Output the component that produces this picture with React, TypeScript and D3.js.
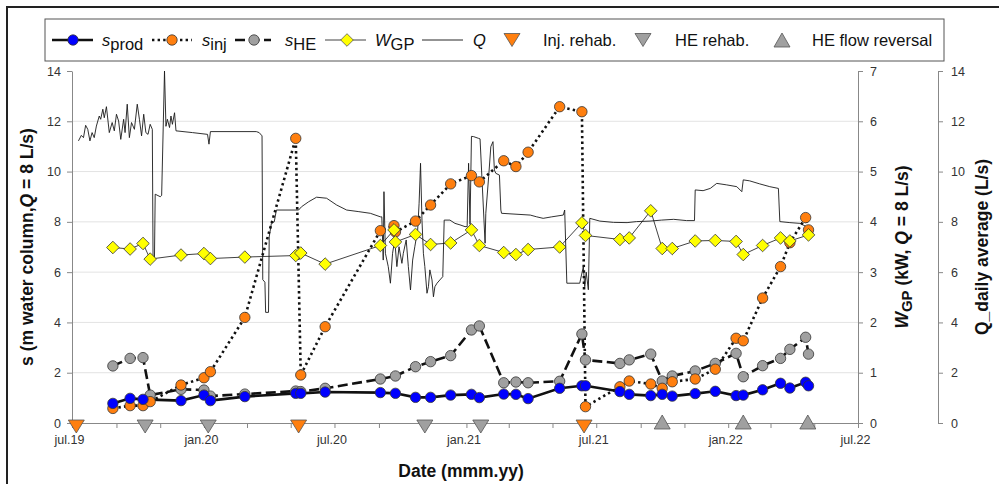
import React, { useEffect, useRef } from "react";
import * as d3 from "d3";

// sampling campaigns (drawdown s, heat pump power W)
const sampleDates = [
  "2019-08-27", "2019-09-20", "2019-10-08", "2019-10-18", "2019-11-30",
  "2020-01-01", "2020-01-10", "2020-02-27", "2020-05-08", "2020-05-15",
  "2020-06-18", "2020-09-03", "2020-09-22", "2020-09-24", "2020-10-22",
  "2020-11-12", "2020-12-10", "2021-01-08", "2021-01-19", "2021-02-22",
  "2021-03-11", "2021-03-28", "2021-05-11", "2021-06-11", "2021-06-16",
  "2021-08-03", "2021-08-16", "2021-09-15", "2021-10-01", "2021-10-15",
  "2021-11-16", "2021-12-14", "2022-01-12", "2022-01-22", "2022-02-18",
  "2022-03-15", "2022-03-28", "2022-04-19", "2022-04-23",
];
const sProd = [
  0.78, 0.98, 0.94, null, 0.89, 1.11, 0.89, 1.05, 1.18, 1.18,
  1.23, 1.21, null, 1.18, 1.02, 1.02, 1.11, 1.14, 1.01, 1.15,
  1.14, 0.97, 1.38, 1.48, 1.48, 1.25, 1.14, 1.09, 1.14, 1.07,
  1.17, 1.26, 1.09, 1.11, 1.32, 1.58, 1.39, 1.62, 1.48,
];
const sInj = [
  0.58, 0.69, 0.69, 0.85, 1.51, 1.8, 2.04, 4.2, 11.32, 1.91,
  3.83, 7.65, 7.85, 7.6, 8.03, 8.67, 9.51, 9.84, 9.59, 10.43,
  10.2, 10.77, 12.58, 12.38, 0.65, 1.44, 1.67, 1.55, 1.38, 1.64,
  1.75, 2.14, 3.37, 3.27, 4.97, 6.22, 7.17, 8.17, 7.68,
];
const sHE = [
  2.27, 2.57, 2.6, 1.11, 1.34, 1.31, 1.07, 1.15, 1.27, 1.25,
  1.38, 1.75, null, 1.87, 2.24, 2.44, 2.68, 3.7, 3.86, 1.6,
  1.63, 1.6, 1.66, 3.54, 2.51, 2.37, 2.51, 2.74, 1.67, 1.87,
  2.07, 2.37, 2.77, 1.84, 2.28, 2.57, 2.93, 3.41, 2.74,
];
const wGP = [
  3.49, 3.46, 3.57, 3.26, 3.34, 3.37, 3.27, 3.3, 3.33, 3.38,
  3.16, 3.53, 3.84, 3.6, 3.75, 3.55, 3.58, 3.84, 3.53, 3.39,
  3.35, 3.45, 3.5, 3.98, 3.73, 3.65, 3.68, 4.22, 3.47, 3.47,
  3.62, 3.63, 3.61, 3.35, 3.53, 3.68, 3.62, null, 3.74,
];

// daily average flow rate Q
const qDates = [
  "2019-07-10", "2019-07-14", "2019-07-17", "2019-07-20", "2019-07-23", "2019-07-26",
  "2019-07-29", "2019-08-01", "2019-08-04", "2019-08-08", "2019-08-10", "2019-08-13",
  "2019-08-15", "2019-08-18", "2019-08-22", "2019-08-26", "2019-08-29", "2019-09-01",
  "2019-09-04", "2019-09-07", "2019-09-11", "2019-09-13", "2019-09-16", "2019-09-19",
  "2019-09-22", "2019-09-26", "2019-09-30", "2019-10-03", "2019-10-06", "2019-10-09",
  "2019-10-12", "2019-10-15", "2019-10-18", "2019-10-21", "2019-10-22", "2019-10-24",
  "2019-10-25", "2019-11-01", "2019-11-03", "2019-11-07", "2019-11-09", "2019-11-11",
  "2019-11-14", "2019-11-16", "2019-11-18", "2019-11-21", "2019-11-23", "2019-12-16",
  "2020-01-06", "2020-01-08", "2020-01-10", "2020-03-14", "2020-03-18", "2020-03-22",
  "2020-03-23", "2020-03-26", "2020-03-27", "2020-03-31", "2020-04-01", "2020-04-04",
  "2020-04-08", "2020-04-11", "2020-05-12", "2020-05-16", "2020-05-26", "2020-06-06",
  "2020-06-20", "2020-07-04", "2020-07-18", "2020-08-03", "2020-08-20", "2020-09-03",
  "2020-09-05", "2020-09-07", "2020-09-08", "2020-09-10", "2020-09-14", "2020-09-17",
  "2020-09-20", "2020-09-23", "2020-09-26", "2020-09-29", "2020-10-03", "2020-10-05",
  "2020-10-09", "2020-10-12", "2020-10-15", "2020-10-18", "2020-10-21", "2020-10-25",
  "2020-10-27", "2020-10-29", "2020-10-31", "2020-11-02", "2020-11-04", "2020-11-07",
  "2020-11-09", "2020-11-11", "2020-11-14", "2020-11-16", "2020-11-18", "2020-11-21",
  "2020-11-25", "2020-11-29", "2020-12-01", "2020-12-09", "2020-12-16", "2020-12-23",
  "2020-12-30", "2021-01-02", "2021-01-04", "2021-01-06", "2021-01-08", "2021-01-11",
  "2021-01-18", "2021-01-20", "2021-01-27", "2021-01-28", "2021-02-01", "2021-02-04",
  "2021-02-07", "2021-02-09", "2021-02-11", "2021-02-16", "2021-02-18", "2021-02-19",
  "2021-03-31", "2021-04-09", "2021-04-18", "2021-04-30", "2021-05-16", "2021-05-18",
  "2021-05-21", "2021-06-08", "2021-06-13", "2021-06-15", "2021-06-17", "2021-06-20",
  "2021-06-22", "2021-07-06", "2021-07-25", "2021-08-13", "2021-08-26", "2021-09-14",
  "2021-09-30", "2021-10-17", "2021-11-04", "2021-11-15", "2021-11-16", "2021-11-27",
  "2021-12-07", "2021-12-16", "2021-12-30", "2022-01-13", "2022-01-20", "2022-01-22",
  "2022-01-31", "2022-02-14", "2022-02-28", "2022-03-12", "2022-03-14", "2022-03-28",
  "2022-04-11", "2022-04-20",
];
const qValues = [
  11.22, 11.44, 11.35, 11.84, 11.68, 11.22,
  11.55, 11.35, 11.81, 12.21, 12.08, 12.48,
  12.14, 12.58, 11.55, 11.95, 11.62, 12.28,
  12.01, 11.28, 12.08, 11.55, 12.68, 11.35,
  11.95, 11.68, 12.68, 12.08, 11.42, 12.28,
  11.55, 11.48, 11.88, 11.68, 6.6, 6.6,
  9.1, 9.0, 9.05, 14.0, 11.8, 12.08,
  11.75, 12.21, 11.88, 12.34, 11.62, 11.55,
  11.48, 11.09, 11.59, 11.59, 11.55, 11.42,
  5.7, 5.6, 4.4, 4.4, 7.4, 7.94,
  8.0, 8.47, 8.47, 8.6, 8.8, 8.98,
  8.94, 8.67, 8.47, 8.41, 8.34, 8.2,
  8.2, 6.48, 9.2, 6.75, 6.22, 5.56,
  6.75, 7.28, 6.22, 7.01, 6.35, 6.75,
  7.28, 6.22, 5.29, 6.48, 7.01, 7.68,
  8.74, 10.33, 8.07, 6.75, 6.22, 5.16,
  5.42, 6.09, 5.69, 5.02, 5.42, 5.56,
  5.69, 5.82, 8.07, 8.07, 7.94, 7.88,
  7.81, 7.81, 10.33, 7.9, 11.4, 11.39,
  11.32, 11.3, 7.15, 8.34, 9.8, 10.99,
  11.19, 10.06, 9.93, 9.86, 8.47, 8.34,
  8.27, 8.2, 8.14, 8.2, 8.27, 8.47,
  5.56, 5.56, 6.22, 5.42, 6.0, 5.3,
  8.14, 8.03, 7.98, 7.97, 8.01, 8.03,
  8.07, 8.1, 8.05, 8.05, 9.27, 9.24,
  9.33, 9.53, 9.47, 9.4, 9.2, 9.67,
  9.63, 9.51, 9.4, 9.33, 8.01, 7.97,
  7.94, 7.81,
];

// events
const injRehab = ["2019-07-07", "2020-05-12", "2021-06-14"];
const heRehab = ["2019-10-11", "2020-01-07", "2020-11-04", "2021-01-21"];
const heReversal = ["2021-10-01", "2022-01-22", "2022-04-22"];

const xTickLabels = ["jul.19", "jan.20", "jul.20", "jan.21", "jul.21", "jan.22", "jul.22"];
const sTicks = [0, 2, 4, 6, 8, 10, 12, 14];
const wTicks = [0, 1, 2, 3, 4, 5, 6, 7];
const qTicks = [0, 2, 4, 6, 8, 10, 12, 14];

const FONT = "Arial, 'Liberation Sans', sans-serif";

export default function App() {
  const ref = useRef<SVGSVGElement>(null);

  useEffect(() => {
    const svg = d3.select(ref.current);
    svg.selectAll("*").remove();

    const parse = d3.timeParse("%Y-%m-%d");
    const start = parse("2019-07-01") as Date;
    const end = parse("2022-07-01") as Date;
    const left = 72, right = 858, top = 71, bottom = 423;

    const x = d3.scaleTime().domain([start, end]).range([left, right]);
    const yS = d3.scaleLinear().domain([0, 14]).range([bottom, top]);
    const yW = d3.scaleLinear().domain([0, 7]).range([bottom, top]);
    const yQ = d3.scaleLinear().domain([0, 14]).range([bottom, top]);

    // outer frame
    svg.append("rect").attr("x", 7).attr("y", 7).attr("width", 1100).attr("height", 600)
      .attr("fill", "none").attr("stroke", "#222").attr("stroke-width", 2);

    // gridlines
    svg.append("g").selectAll("line").data(sTicks.filter((t) => t > 0 && t < 14)).join("line")
      .attr("x1", left).attr("x2", right)
      .attr("y1", (d) => yS(d)).attr("y2", (d) => yS(d))
      .attr("stroke", "#e3e3e3").attr("stroke-width", 1);

    const styleAxis = (g: any) => {
      g.select(".domain").attr("stroke", "#888");
      g.selectAll(".tick line").attr("stroke", "#888");
      g.selectAll(".tick text").attr("fill", "#333").style("font-family", FONT).style("font-size", "12.5px");
    };

    const months = d3.timeMonth.every(2)!.range(start, d3.timeDay.offset(end, 1));
    svg.append("g").attr("transform", `translate(0,${bottom})`)
      .call(d3.axisBottom(x).tickValues(months).tickSize(5).tickSizeOuter(0).tickPadding(7)
        .tickFormat((_d: any, i: number) => (i % 3 === 0 ? xTickLabels[i / 3] : "")) as any)
      .call(styleAxis)
      .selectAll(".tick text").attr("dx", "-3");

    svg.append("g").attr("transform", `translate(${left},0)`)
      .call(d3.axisLeft(yS).tickValues(sTicks).tickSize(5).tickSizeOuter(0).tickPadding(6)
        .tickFormat(d3.format("d")) as any)
      .call(styleAxis);

    svg.append("g").attr("transform", `translate(${right},0)`)
      .call(d3.axisRight(yW).tickValues(wTicks).tickSize(5).tickSizeOuter(0).tickPadding(7)
        .tickFormat(d3.format("d")) as any)
      .call(styleAxis);

    svg.append("g").attr("transform", `translate(938,0)`)
      .call(d3.axisRight(yQ).tickValues(qTicks).tickSize(5).tickSizeOuter(0).tickPadding(8)
        .tickFormat(d3.format("d")) as any)
      .call(styleAxis);

    // axis titles
    const title = (tx: number, ty: number, rot: boolean) =>
      svg.append("text").attr("transform", `translate(${tx},${ty})${rot ? " rotate(-90)" : ""}`)
        .attr("text-anchor", "middle").attr("dy", "0.35em")
        .style("font-family", FONT).style("font-size", "17.5px").style("font-weight", "bold").attr("fill", "#111");

    const t1 = title(27, 247, true);
    t1.append("tspan").text("s (m water column,");
    t1.append("tspan").style("font-style", "italic").text("Q");
    t1.append("tspan").text(" = 8 L/s)");

    const t2 = title(902, 247, true);
    t2.append("tspan").style("font-style", "italic").text("W");
    t2.append("tspan").attr("dy", 4).style("font-size", "15px").text("GP");
    t2.append("tspan").attr("dy", -4).text(" (kW, ");
    t2.append("tspan").style("font-style", "italic").text("Q");
    t2.append("tspan").text(" = 8 L/s)");

    title(982, 247, true).text("Q_daily average (L/s)");
    title(461, 471, false).text("Date (mmm.yy)");

    // data
    const rows = sampleDates.map((d, i) => ({
      date: parse(d) as Date, prod: sProd[i], inj: sInj[i], he: sHE[i], w: wGP[i],
    }));
    const qData = qDates.map((d, i) => ({ date: parse(d) as Date, v: qValues[i] }));

    const plotG = svg.append("g");

    plotG.append("path").datum(qData)
      .attr("fill", "none").attr("stroke", "#1a1a1a").attr("stroke-width", 0.9)
      .attr("d", d3.line<any>().x((d) => x(d.date)).y((d) => yQ(d.v)) as any);

    const series = [
      { key: "he", y: yS, fill: "#a0a0a0", dash: "10,4.5", width: 2.6 },
      { key: "inj", y: yS, fill: "#ff7f0f", dash: "2.4,3.2", width: 2.6 },
      { key: "prod", y: yS, fill: "#0000ff", dash: null, width: 2.6 },
      { key: "w", y: yW, fill: "#ffff00", dash: null, width: 0.8 },
    ];

    series.forEach((s) => {
      const pts = rows.filter((r: any) => r[s.key] != null);
      plotG.append("path").datum(pts)
        .attr("fill", "none").attr("stroke", "#111").attr("stroke-width", s.width)
        .attr("stroke-dasharray", s.dash)
        .attr("d", d3.line<any>().x((d) => x(d.date)).y((d) => s.y(d[s.key])) as any);
    });

    const diamond = "M0,-6.3L6.3,0L0,6.3L-6.3,0Z";
    series.forEach((s) => {
      const pts = rows.filter((r: any) => r[s.key] != null);
      if (s.key === "w") {
        plotG.append("g").selectAll("path").data(pts).join("path")
          .attr("d", diamond)
          .attr("transform", (d: any) => `translate(${x(d.date)},${s.y(d[s.key])})`)
          .attr("fill", s.fill).attr("stroke", "#333").attr("stroke-width", 0.8);
      } else {
        plotG.append("g").selectAll("circle").data(pts).join("circle")
          .attr("cx", (d: any) => x(d.date)).attr("cy", (d: any) => s.y(d[s.key]))
          .attr("r", 5.2)
          .attr("fill", s.fill).attr("stroke", "#333").attr("stroke-width", 0.8);
      }
    });

    // event triangles
    const down = "M-8,-6.5L8,-6.5L0,6.5Z";
    const up = "M0,-7L8,7L-8,7Z";
    const events = [
      { dates: injRehab, shape: down, fill: "#ff7f0f", dy: 3.5 },
      { dates: heRehab, shape: down, fill: "#a0a0a0", dy: 3.5 },
      { dates: heReversal, shape: up, fill: "#a0a0a0", dy: -1 },
    ];
    events.forEach((e) => {
      plotG.append("g").selectAll("path").data(e.dates).join("path")
        .attr("d", e.shape)
        .attr("transform", (d) => `translate(${x(parse(d) as Date)},${bottom + e.dy})`)
        .attr("fill", e.fill).attr("stroke", "#555").attr("stroke-width", 0.8);
    });

    // legend
    const lg = svg.append("g");
    lg.append("rect").attr("x", 45).attr("y", 19).attr("width", 899).attr("height", 42)
      .attr("fill", "#fff").attr("stroke", "#555").attr("stroke-width", 1);
    const ly = 40;
    const legText = (lx: number, main: string, sub?: string, italic = true) => {
      const t = lg.append("text").attr("x", lx).attr("y", ly).attr("dy", "0.35em")
        .style("font-family", FONT).style("font-size", "16.5px").attr("fill", "#111");
      t.append("tspan").style("font-style", italic ? "italic" : "normal").text(main);
      if (sub) t.append("tspan").attr("dy", 4).text(sub);
    };
    const legLine = (x1: number, x2: number, dash: string | null, width: number) =>
      lg.append("line").attr("x1", x1).attr("x2", x2).attr("y1", ly).attr("y2", ly)
        .attr("stroke", "#111").attr("stroke-width", width).attr("stroke-dasharray", dash);
    const legCircle = (cx: number, fill: string) =>
      lg.append("circle").attr("cx", cx).attr("cy", ly).attr("r", 5.2)
        .attr("fill", fill).attr("stroke", "#333").attr("stroke-width", 0.8);
    const legShape = (cx: number, d: string, fill: string) =>
      lg.append("path").attr("d", d).attr("transform", `translate(${cx},${ly})`)
        .attr("fill", fill).attr("stroke", "#555").attr("stroke-width", 0.8);

    legLine(52, 93, null, 2.6); legCircle(73, "#0000ff"); legText(102, "s", "prod");
    legLine(152, 192, "2.4,3.2", 2.6); legCircle(172, "#ff7f0f"); legText(202, "s", "inj");
    legLine(235, 271, "10,4.5", 2.6); legCircle(254, "#a0a0a0"); legText(285, "s", "HE");
    legLine(325, 366, null, 0.8); legShape(347, diamond, "#ffff00"); legText(375, "W", "GP");
    legLine(422, 463, null, 0.9); legText(473, "Q");
    legShape(512, down, "#ff7f0f"); legText(543, "Inj. rehab.", undefined, false);
    legShape(643, down, "#a0a0a0"); legText(675, "HE rehab.", undefined, false);
    legShape(782, up, "#a0a0a0"); legText(812, "HE flow reversal", undefined, false);
  }, []);

  return (
    <svg
      ref={ref}
      width={999}
      height={484}
      style={{ position: "absolute", left: 0, top: 0, background: "#fff" }}
    />
  );
}
